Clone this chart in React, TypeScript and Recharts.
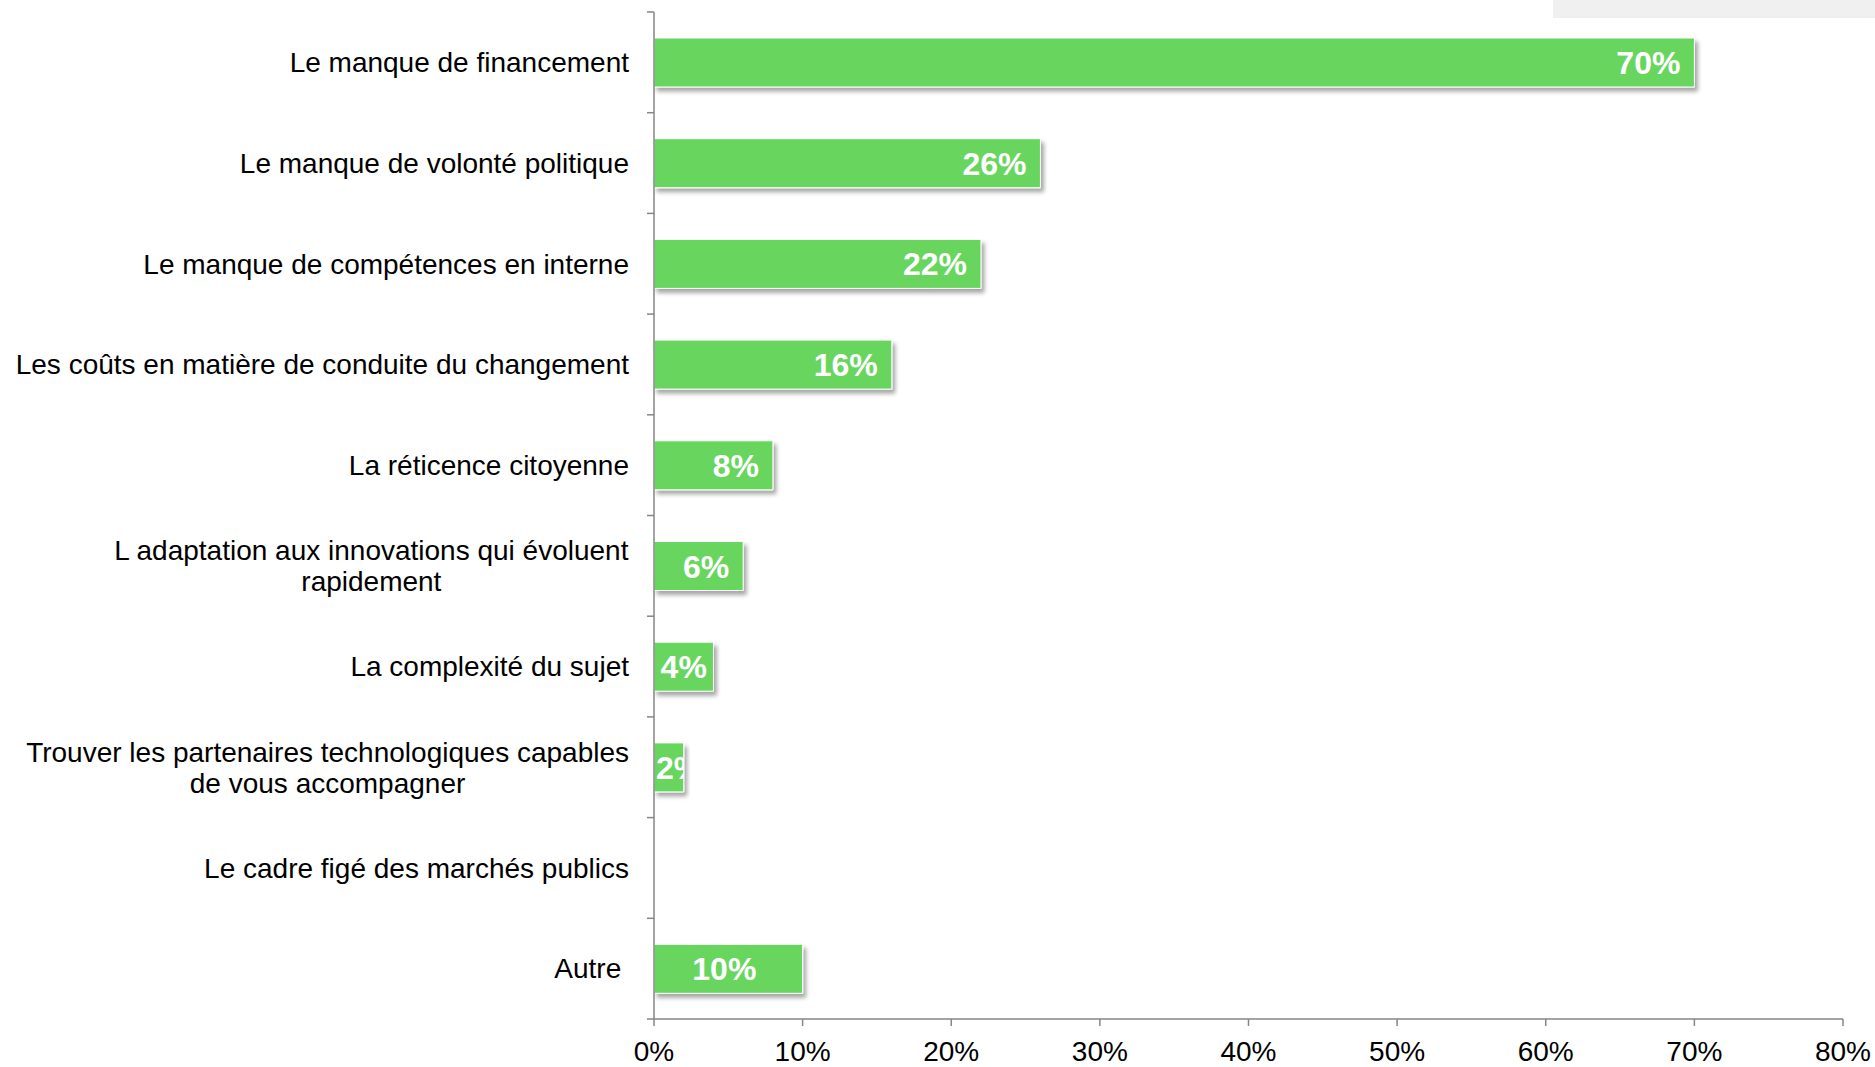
import { BarChart, Bar, XAxis, YAxis, LabelList } from "recharts";

const categories = [
  "Le manque de financement",
  "Le manque de volonté politique",
  "Le manque de compétences en interne",
  "Les coûts en matière de conduite du changement",
  "La réticence citoyenne",
  "L adaptation aux innovations qui évoluent\nrapidement",
  "La complexité du sujet",
  "Trouver les partenaires technologiques capables\nde vous accompagner",
  "Le cadre figé des marchés publics",
  "Autre ",
];
const values = [70, 26, 22, 16, 8, 6, 4, 2, 0, 10];
// where each data label sits in its bar
const labelPlacement = ["end", "end", "end", "end", "end", "end", "end", "end", "end", "center"];
const xTicks = [0, 10, 20, 30, 40, 50, 60, 70, 80];

const data = categories.map((name, i) => ({ name, value: values[i] }));

const FONT = "'Liberation Sans', Arial, sans-serif";
const AXIS = "#868686";
const GREEN = "#68D55F";
const TICK_SIZE = 6;
const TICK_MARGIN = 19;

let ctx: CanvasRenderingContext2D | null = null;
function measure(text: string, font: string) {
  if (!ctx) ctx = document.createElement("canvas").getContext("2d");
  if (!ctx) return text.length * 12;
  ctx.font = font;
  return ctx.measureText(text).width;
}

function CategoryTick(props: any) {
  const { x, y, payload, index, visibleTicksCount } = props;
  const lines = String(payload.value).split("\n");
  const block = Math.max(...lines.map((l) => measure(l, `28px ${FONT}`)));
  const lh = 31;
  const y0 = y - ((lines.length - 1) * lh) / 2;
  const axisX = x + TICK_SIZE + TICK_MARGIN;
  const half = payload.offset || 0;
  const last = index === visibleTicksCount - 1;
  return (
    <g>
      <line x1={axisX - 7} x2={axisX} y1={y - half} y2={y - half} stroke={AXIS} strokeWidth={1.5} />
      {last && <line x1={axisX - 7} x2={axisX} y1={y + half} y2={y + half} stroke={AXIS} strokeWidth={1.5} />}
      {lines.map((l, i) => (
        <text
          key={i}
          x={x - block / 2}
          y={y0 + i * lh}
          dy="0.35em"
          textAnchor="middle"
          fontSize={28}
          fontFamily={FONT}
          fill="#000"
          style={{ whiteSpace: "pre" }}
        >
          {l}
        </text>
      ))}
    </g>
  );
}

function ValueLabel(props: any) {
  const { x, y, width, height, value } = props;
  if (!value) return null;
  const i = values.indexOf(Number(value));
  const text = `${value}%`;
  const tw = measure(text, `bold 32px ${FONT}`);
  const pad = 14;
  let endX: number;
  if (labelPlacement[i] === "center") endX = x + width / 2 + tw / 2 - 4;
  else if (width >= tw + 2 * pad) endX = x + width - pad;
  else if (width >= tw) endX = x + width - (width - tw) / 2;
  else endX = x + tw + 2;
  const id = `lbl-clip-${i}`;
  return (
    <g>
      <defs>
        <clipPath id={id}>
          <rect x={x} y={y} width={width} height={height} />
        </clipPath>
      </defs>
      <text
        x={endX}
        y={y + height / 2}
        dy="0.36em"
        textAnchor="end"
        fontSize={32}
        fontWeight="bold"
        fontFamily={FONT}
        fill="#fff"
        clipPath={`url(#${id})`}
      >
        {text}
      </text>
    </g>
  );
}

export default function App() {
  return (
    <div style={{ position: "absolute", left: 0, top: 0, width: 1875, height: 1067, background: "#fff" }}>
      <div style={{ position: "absolute", left: 1553, top: 0, width: 322, height: 18, background: "#f0f0f0" }} />
      <BarChart
        width={1875}
        height={1067}
        data={data}
        layout="vertical"
        margin={{ top: 12, right: 32, bottom: 0, left: 0 }}
      >
        <defs>
          <filter id="barShadow" x="-10%" y="-20%" width="130%" height="160%">
            <feDropShadow dx="3" dy="4" stdDeviation="2" floodColor="#000" floodOpacity="0.35" />
          </filter>
        </defs>
        <YAxis
          type="category"
          dataKey="name"
          width={654}
          interval={0}
          axisLine={{ stroke: AXIS, strokeWidth: 1.5 }}
          tickLine={false}
          tickSize={TICK_SIZE}
          tickMargin={TICK_MARGIN}
          tick={<CategoryTick />}
        />
        <XAxis
          type="number"
          domain={[0, 80]}
          ticks={xTicks}
          tickFormatter={(v) => `${v}%`}
          height={48}
          tickSize={7}
          tickMargin={15}
          axisLine={{ stroke: AXIS, strokeWidth: 1.5 }}
          tickLine={{ stroke: AXIS, strokeWidth: 1.5 }}
          tick={{ fill: "#000", fontSize: 28, fontFamily: FONT }}
        />
        <Bar
          dataKey="value"
          fill={GREEN}
          stroke="#ffffff"
          strokeWidth={1}
          barSize={49}
          filter="url(#barShadow)"
          isAnimationActive={false}
        >
          <LabelList dataKey="value" content={<ValueLabel />} />
        </Bar>
      </BarChart>
    </div>
  );
}
